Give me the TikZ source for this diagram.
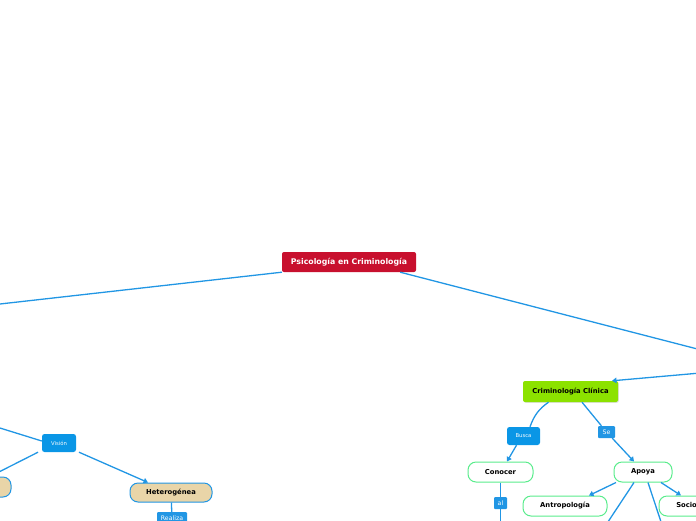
\documentclass[tikz,border=0pt]{standalone}
\usepackage{fontspec}
\setmainfont{DejaVu Sans}
\usetikzlibrary{arrows.meta, shadows}
\definecolor{linkblue}{RGB}{33,150,228}
\definecolor{tagblue}{RGB}{10,150,230}
\definecolor{rootred}{RGB}{200,16,46}
\definecolor{limegreen}{RGB}{140,226,0}
\definecolor{mintgreen}{RGB}{90,236,140}
\definecolor{sand}{RGB}{233,213,168}

\begin{document}
\begin{tikzpicture}[x=1pt,y=-1pt]
        \tikzstyle{every node}+=[inner sep=0pt]
        \tikzstyle{conn}=[linkblue, line width=1.3pt]
        \tikzstyle{arr}=[-{Triangle[length=4.5pt,width=5.5pt]}]
        \tikzstyle{rootbox}=[fill=rootred, text=white, rounded corners=2pt, font=\fontsize{7.8}{9}\selectfont\bfseries]
        \tikzstyle{limebox}=[fill=limegreen, rounded corners=2pt, drop shadow={opacity=0.25, shadow xshift=0.8pt, shadow yshift=-0.8pt}, font=\fontsize{6.8}{8}\selectfont\bfseries]
        \tikzstyle{greenbox}=[draw=mintgreen, line width=1pt, fill=white, rounded corners=8pt, minimum height=20, font=\fontsize{6.8}{8}\selectfont\bfseries]
        \tikzstyle{tanbox}=[draw=linkblue, line width=1pt, fill=sand, rounded corners=8pt, font=\fontsize{6.8}{8}\selectfont\bfseries]
        \tikzstyle{bluetag}=[fill=tagblue, text=white, rounded corners=2.5pt, minimum height=18, font=\fontsize{5.3}{6}\selectfont]
        \tikzstyle{smalltag}=[fill=linkblue, text=white, rounded corners=1pt, minimum height=12, font=\fontsize{6.2}{7}\selectfont]
        \useasboundingbox (0,0) rectangle (696,520);
        \clip (0,0) rectangle (696,520);
        \node [rootbox, minimum width=134, minimum height=20] (psico) at (349,262) {Psicología en Criminología};
        \node [limebox, minimum width=95, minimum height=21] (clinica) at (570.5,391.5) {Criminología Clínica};
        \node [bluetag, minimum width=33] (busca) at (523.5,436) {Busca};
        \node [smalltag, minimum width=17] (se) at (606.5,432) {Se};
        \node [greenbox, minimum width=65] (conocer) at (500.5,472) {Conocer};
        \node [greenbox, minimum width=58] (apoya) at (643,472) {Apoya};
        \node [smalltag, minimum width=13] (al) at (500.5,503) {al};
        \node [greenbox, minimum width=84] (antro) at (565,506) {Antropología};
        \node [greenbox, minimum width=74] (socio) at (696,506) {Sociología};
        \node [bluetag, minimum width=34] (vision) at (59,443) {Visión};
        \node [tanbox, minimum width=82, minimum height=19] (hetero) at (171,492.5) {Heterogénea};
        \node [tanbox, minimum width=102, minimum height=20] (izq) at (-40,487) {};
        \node [smalltag, minimum width=30] (realiza) at (172,518) {Realiza};
        \coordinate (offL) at (-40,308.5);
        \coordinate (offR) at (740,360);
        \coordinate (offR2) at (740,369.5);
        \coordinate (offV) at (-40,415.6);
        \coordinate (offA) at (500.5,540);
        \coordinate (offB) at (596,540);
        \coordinate (offC) at (667,540);
        \draw [conn] (psico.south west) -- (offL);
        \draw [conn] ([xshift=-16]psico.south east) -- (offR);
        \draw [conn, arr] (offR2) -- ([xshift=41.5]clinica.north);
        \draw [conn] ([xshift=-22]clinica.south) to [out=215, in=70] ([xshift=6.5]busca.north);
        \draw [conn, arr] ([xshift=-7]busca.south) -- ([xshift=6.5]conocer.north);
        \draw [conn] ([xshift=11.5]clinica.south) -- (se);
        \draw [conn, arr] (se) -- ([xshift=-9]apoya.north);
        \draw [conn] (conocer) -- (al);
        \draw [conn] (al) -- (offA);
        \draw [conn, arr] ([xshift=-27]apoya.south) -- ([xshift=24]antro.north);
        \draw [conn, arr] ([xshift=18]apoya.south) -- ([xshift=-15]socio.north);
        \draw [conn] ([xshift=-9]apoya.south) -- (offB);
        \draw [conn] ([xshift=5]apoya.south) -- (offC);
        \draw [conn] (offV) -- ([yshift=2]vision.west);
        \draw [conn, arr] ([xshift=-21]vision.south) -- ([xshift=30]izq.north);
        \draw [conn, arr] ([xshift=20]vision.south) -- ([xshift=-23]hetero.north);
        \draw [conn] (hetero) -- (realiza);
\end{tikzpicture}
\end{document}
